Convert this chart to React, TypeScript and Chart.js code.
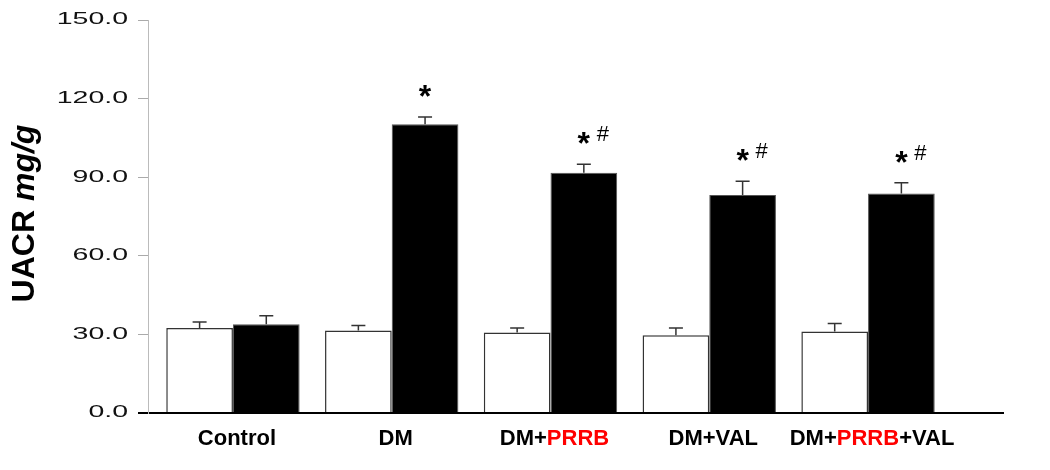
import React, { useEffect, useRef } from 'react';
import { Chart, registerables } from 'chart.js';

Chart.register(...registerables);

// ---- data ----
const categories = ['Control', 'DM', 'DM+PRRB', 'DM+VAL', 'DM+PRRB+VAL'];
const highlightWord = 'PRRB';
const whiteValues = [32.4, 31.5, 30.7, 29.7, 31.1];
const whiteErrors = [2.3, 1.9, 1.7, 2.7, 3.1];
const blackValues = [33.9, 110.2, 91.7, 83.2, 83.8];
const blackErrors = [3.2, 2.8, 3.2, 5.3, 4.1];
const significance = ['', '*', '*#', '*#', '*#'];
const yTickValues = [0, 30, 60, 90, 120, 150];
const yTitleMain = 'UACR ';
const yTitleUnit = 'mg/g';

const FONT = "'Liberation Sans', Arial, sans-serif";

export default function App() {
  const canvasRef = useRef<HTMLCanvasElement | null>(null);

  useEffect(() => {
    const canvas = canvasRef.current;
    if (!canvas) return;

    const stretchYLabels = {
      id: 'stretchYLabels',
      beforeDraw(chart: any) {
        const ys = chart.scales.y;
        if (ys && !ys.__patched) {
          const orig = ys.drawLabels.bind(ys);
          ys.drawLabels = (area: any) => {
            const ctx = chart.ctx;
            const ax = ys.right - 10 - ys.options.ticks.padding;
            ctx.save();
            ctx.translate(ax, 0);
            ctx.scale(1.78, 1);
            ctx.translate(-ax, 0);
            orig(area);
            ctx.restore();
          };
          ys.__patched = true;
        }
      },
    };

    const extras = {
      id: 'extras',
      afterDatasetsDraw(chart: any) {
        const ctx = chart.ctx;
        const ys = chart.scales.y;
        const sets: [number, number[], number[]][] = [
          [0, whiteValues, whiteErrors],
          [1, blackValues, blackErrors],
        ];
        ctx.save();
        ctx.strokeStyle = '#333';
        ctx.lineWidth = 1.5;
        sets.forEach(([d, vals, errs]) => {
          const meta = chart.getDatasetMeta(d);
          meta.data.forEach((el: any, i: number) => {
            const top = ys.getPixelForValue(vals[i] + errs[i]);
            ctx.beginPath();
            ctx.moveTo(el.x, el.y);
            ctx.lineTo(el.x, top);
            ctx.moveTo(el.x - 7, top);
            ctx.lineTo(el.x + 7, top);
            ctx.stroke();
          });
        });
        // significance marks
        const bm = chart.getDatasetMeta(1);
        ctx.fillStyle = '#000';
        significance.forEach((s, i) => {
          if (!s) return;
          const el = bm.data[i];
          const capY = ys.getPixelForValue(blackValues[i] + blackErrors[i]);
          const starCenter = capY - 28;
          ctx.textBaseline = 'alphabetic';
          ctx.textAlign = 'center';
          ctx.font = `bold 32px ${FONT}`;
          ctx.fillText('*', el.x, starCenter + 18);
          if (s.includes('#')) {
            ctx.font = `22px ${FONT}`;
            ctx.fillText('#', el.x + 19, starCenter + 5);
          }
        });
        ctx.restore();
      },
      afterDraw(chart: any) {
        const ctx = chart.ctx;
        const xs = chart.scales.x;
        const area = chart.chartArea;
        ctx.save();
        // x category labels with highlighted word
        ctx.font = `bold 22px ${FONT}`;
        ctx.textBaseline = 'alphabetic';
        ctx.textAlign = 'left';
        categories.forEach((label, i) => {
          const parts: [string, string][] = [];
          const pieces = label.split(highlightWord);
          pieces.forEach((p, k) => {
            if (p) parts.push([p, '#000']);
            if (k < pieces.length - 1) parts.push([highlightWord, '#ff0000']);
          });
          const total = parts.reduce((a, p) => a + ctx.measureText(p[0]).width, 0);
          let x = xs.getPixelForValue(i) + 4 - total / 2;
          parts.forEach(([t, c]) => {
            ctx.fillStyle = c;
            ctx.fillText(t, x, 445);
            x += ctx.measureText(t).width;
          });
        });
        // y title with italic unit
        const cy = (area.top + area.bottom) / 2 - 3;
        ctx.translate(34, cy);
        ctx.rotate(-Math.PI / 2);
        ctx.fillStyle = '#000';
        ctx.font = `bold 32px ${FONT}`;
        const w1 = ctx.measureText(yTitleMain).width;
        ctx.font = `italic bold 32px ${FONT}`;
        const w2 = ctx.measureText(yTitleUnit).width;
        const start = -(w1 + w2) / 2;
        ctx.font = `bold 32px ${FONT}`;
        ctx.fillText(yTitleMain, start, 0);
        ctx.font = `italic bold 32px ${FONT}`;
        ctx.fillText(yTitleUnit, start + w1, 0);
        ctx.restore();
      },
    };

    const chart = new Chart(canvas, {
      type: 'bar',
      data: {
        datasets: [
          {
            data: whiteValues.map((v, i) => ({ x: i, y: v })),
            backgroundColor: '#ffffff',
            borderColor: '#333333',
            borderWidth: 1.5,
            borderSkipped: 'start',
          },
          {
            data: blackValues.map((v, i) => ({ x: i, y: v })),
            backgroundColor: '#000000',
            borderColor: '#555555',
            borderWidth: 1,
            borderSkipped: 'start',
          },
        ] as any,
      },
      options: {
        animation: false,
        responsive: false,
        maintainAspectRatio: false,
        layout: { padding: { left: 48, right: 47, top: 20, bottom: 0 } },
        datasets: { bar: { barPercentage: 1, categoryPercentage: 0.84 } } as any,
        plugins: { legend: { display: false }, tooltip: { enabled: false } },
        scales: {
          x: {
            type: 'linear',
            offset: false,
            min: -0.535,
            max: 4.85,
            afterBuildTicks: (s: any) => {
              s.ticks = categories.map((_, i) => ({ value: i }));
            },
            afterFit: (s: any) => {
              s.height = 57;
            },
            ticks: { display: false },
            grid: { display: false, offset: false },
            border: { display: true, color: '#000', width: 2 },
          },
          y: {
            type: 'linear',
            min: 0,
            max: 150,
            afterBuildTicks: (s: any) => {
              s.ticks = yTickValues.map((v) => ({ value: v }));
            },
            afterFit: (s: any) => {
              s.width = 100;
            },
            ticks: {
              padding: 10,
              color: '#111',
              font: { family: FONT, size: 16 },
              callback: (v: any) => Number(v).toFixed(1),
            },
            grid: {
              drawOnChartArea: false,
              drawTicks: true,
              tickLength: 10,
              color: (c: any) => (c.tick && c.tick.value === 0 ? '#000' : '#aaa'),
              lineWidth: (c: any) => (c.tick && c.tick.value === 0 ? 2 : 1),
            },
            border: { display: true, color: '#bbb', width: 1 },
          },
        },
      } as any,
      plugins: [stretchYLabels, extras],
    });

    return () => chart.destroy();
  }, []);

  return (
    <div style={{ position: 'fixed', left: 0, top: 0, width: 1050, height: 470, background: '#fff' }}>
      <canvas ref={canvasRef} width={1050} height={470} style={{ display: 'block' }} />
    </div>
  );
}
